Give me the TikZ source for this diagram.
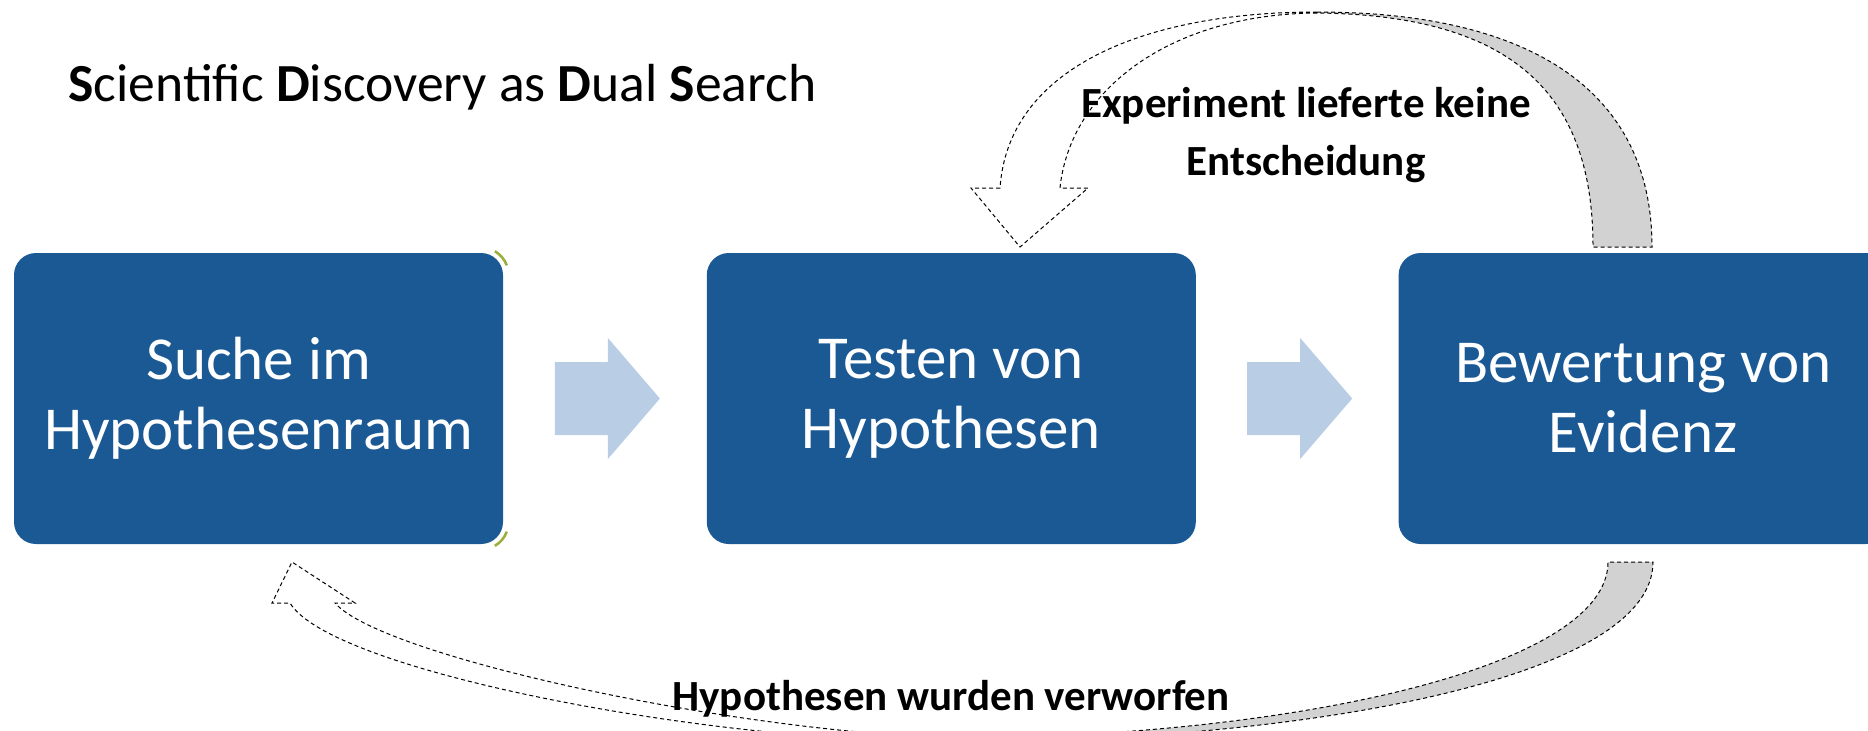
\documentclass[tikz,border=0pt]{standalone}
\usepackage{fontspec}
\setmainfont{Carlito}
\usetikzlibrary{positioning,calc}

\definecolor{stageblue}{RGB}{26,89,148}
\definecolor{flowblue}{RGB}{185,205,228}
\definecolor{cornergreen}{RGB}{155,175,60}

\newcommand{\flowarrow}[1]{%
  \fill[flowblue] ($(#1)+(-50,-36.5)$) -- ++(53,0) -- ++(0,-24) -- ++(52,60.5)
    -- ++(-52,60.5) -- ++(0,-24) -- ++(-53,0) -- cycle;}

\begin{document}
\begin{tikzpicture}[x=0.5pt, y=-0.5pt,
    stage/.style={rectangle, rounded corners=11pt, fill=stageblue, text=white,
      minimum width=244.5pt, minimum height=145.5pt, inner sep=0pt, align=center,
      font=\fontsize{30.5}{35}\selectfont},
    ribbon/.style={draw=black, line width=0.5pt, dash pattern=on 2pt off 1.5pt},
    remark/.style={font=\fontsize{21.5}{29}\selectfont\bfseries, align=center, inner sep=0pt}]
  \clip (0,0) rectangle (1868,730);

  \node[anchor=base west, inner sep=0pt, font=\fontsize{26.8}{32}\selectfont] (title) at (68,101)
    {\textbf{S}cientific \textbf{D}iscovery as \textbf{D}ual \textbf{S}earch};

  \node[stage] (suche) at (258.5,398.5) {Suche im\\Hypothesenraum};
  \node[stage, right=101.5pt of suche] (testen) {Testen von\\Hypothesen};
  \node[stage, right=101pt of testen] (bewertung) {Bewertung von\\Evidenz};

  % thin green rim on the right corners of the first box
  \draw[cornergreen, line width=1.3pt] ([shift={(-22,22)}]suche.north east) ++(-20:27)
    arc[start angle=-20, end angle=-60, radius=27];
  \draw[cornergreen, line width=1.3pt] ([shift={(-22,-22)}]suche.south east) ++(20:27)
    arc[start angle=20, end angle=60, radius=27];

  \coordinate (f1) at ($(suche.east)!0.5!(testen.west)$);
  \coordinate (f2) at ($(testen.east)!0.5!(bewertung.west)$);
  \flowarrow{f1}
  \flowarrow{f2}

  % loop back over the top
  \filldraw[ribbon, fill=gray!35] (1317,12) .. controls (1530,12) and (1652,90) .. (1652,247)
    -- (1593,247) .. controls (1593,100) and (1520,15) .. (1317,13) -- cycle;
  \filldraw[ribbon, fill=white] (1317,12) .. controls (1140,12) and (1008,70) .. (1000,188)
    -- (971,188) -- (1020,247) -- (1088,188) -- (1060,188)
    .. controls (1070,90) and (1170,14) .. (1317,13);

  % loop back underneath
  \filldraw[ribbon, fill=gray!35] (950,742) .. controls (1300,742) and (1653,680) .. (1653,562)
    -- (1608,562) .. controls (1608,670) and (1280,738) .. (950,738) -- cycle;
  \filldraw[ribbon, fill=white] (950,742) .. controls (700,742) and (330,670) .. (290,603)
    -- (272,603) -- (292,562) -- (355,603) -- (335,603)
    .. controls (380,655) and (720,730) .. (950,738);

  \node[remark] (undecided) at (1306,135) {Experiment lieferte keine\\Entscheidung};
  \node[remark, anchor=base] (rejected) at (951,710) {Hypothesen wurden verworfen};
\end{tikzpicture}
\end{document}
